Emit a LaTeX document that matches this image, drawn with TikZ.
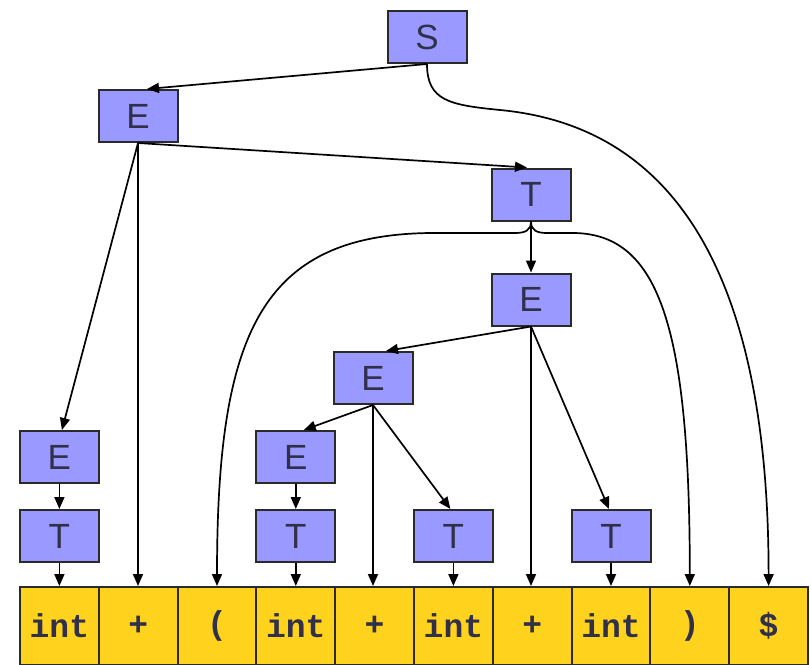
\documentclass[tikz,border=0pt]{standalone}
\usepackage{fontspec}
\setmainfont{Liberation Sans}
\setmonofont{Liberation Mono}
\usetikzlibrary{arrows.meta}
\definecolor{nodeblue}{HTML}{9999FF}
\definecolor{tokyellow}{HTML}{FFD21E}
\definecolor{edgegray}{HTML}{2A2A2A}
\definecolor{lettercol}{HTML}{30304A}
\tikzset{
  nt/.style={draw=edgegray, line width=2pt, fill=nodeblue, minimum width=79pt, minimum height=52pt, inner sep=0pt, font=\fontsize{35}{35}\selectfont, text=lettercol},
  tok/.style={draw=edgegray, line width=2pt, fill=tokyellow, minimum width=78.8pt, minimum height=78pt, inner sep=0pt, font=\fontsize{33}{33}\selectfont\ttfamily\bfseries, text=lettercol},
  arr/.style={draw=black, line width=1.7pt, -{Triangle[length=12pt,width=10pt]}},
  ln/.style={draw=black, line width=1.7pt}
}
\begin{document}
\begin{tikzpicture}[x=1pt,y=-1pt]
\useasboundingbox (0,0) rectangle (811,664);
\clip (0,0) rectangle (811,664);
% tokens
\node[tok] (c1) at (59.4,626) {int};
\node[tok] (c2) at (138.2,626) {+};
\node[tok] (c3) at (217.0,626) {(};
\node[tok] (c4) at (295.8,626) {int};
\node[tok] (c5) at (374.6,626) {+};
\node[tok] (c6) at (453.4,626) {int};
\node[tok] (c7) at (532.2,626) {+};
\node[tok] (c8) at (611.0,626) {int};
\node[tok] (c9) at (689.8,626) {)};
\node[tok] (c10) at (768.6,626) {\$};
% nonterminals
\node[nt] (S) at (427,37) {S};
\node[nt] (E1) at (138,116) {E};
\node[nt] (T1) at (531,194.5) {T};
\node[nt] (E2) at (531,299.5) {E};
\node[nt] (E3) at (373,378) {E};
\node[nt] (E4) at (59.4,457) {E};
\node[nt] (T4) at (59.4,536) {T};
\node[nt] (E5) at (295.8,457) {E};
\node[nt] (T5) at (295.8,536) {T};
\node[nt] (T6) at (453.4,536) {T};
\node[nt] (T8) at (611,536) {T};
% edges
\draw[arr] (S.south) -- ([xshift=9pt]E1.north);
\draw[arr] (S.south) .. controls +(0,37) and (450,105) .. (500,110)
  .. controls (690,128) and (768.6,300) .. (c10.north);
\draw[arr] (E1.south) -- ([xshift=2.5pt]E4.north);
\draw[arr] (E1.south) -- (E1.south |- c2.north);
\draw[arr] (E1.south) -- ([xshift=-4pt]T1.north);
\draw[arr] (T1.south) -- (E2.north);
\draw[arr] (T1.south) .. controls +(0,9) and (525,233) .. (515,233)
  -- (430,233) .. controls (260,235) and (217,335) .. (c3.north);
\draw[arr] (T1.south) .. controls +(0,9) and (537,233) .. (547,233)
  -- (575,233) .. controls (660,235) and (689.8,330) .. (c9.north);
\draw[arr] (E2.south) -- ([xshift=13pt]E3.north);
\draw[arr] (E2.south) -- (E2.south |- c7.north);
\draw[arr] (E2.south) -- ([xshift=-2pt]T8.north);
\draw[arr] (E3.south) -- ([xshift=8pt]E5.north);
\draw[arr] (E3.south) -- (E3.south |- c5.north);
\draw[arr] (E3.south) -- ([xshift=-3pt]T6.north);
\draw[arr] (E4) -- (T4);
\draw[arr] (T4) -- (c1);
\draw[arr] (E5) -- (T5);
\draw[arr] (T5) -- (c4);
\draw[arr] (T6) -- (c6);
\draw[arr] (T8) -- (c8);
\end{tikzpicture}
\end{document}
